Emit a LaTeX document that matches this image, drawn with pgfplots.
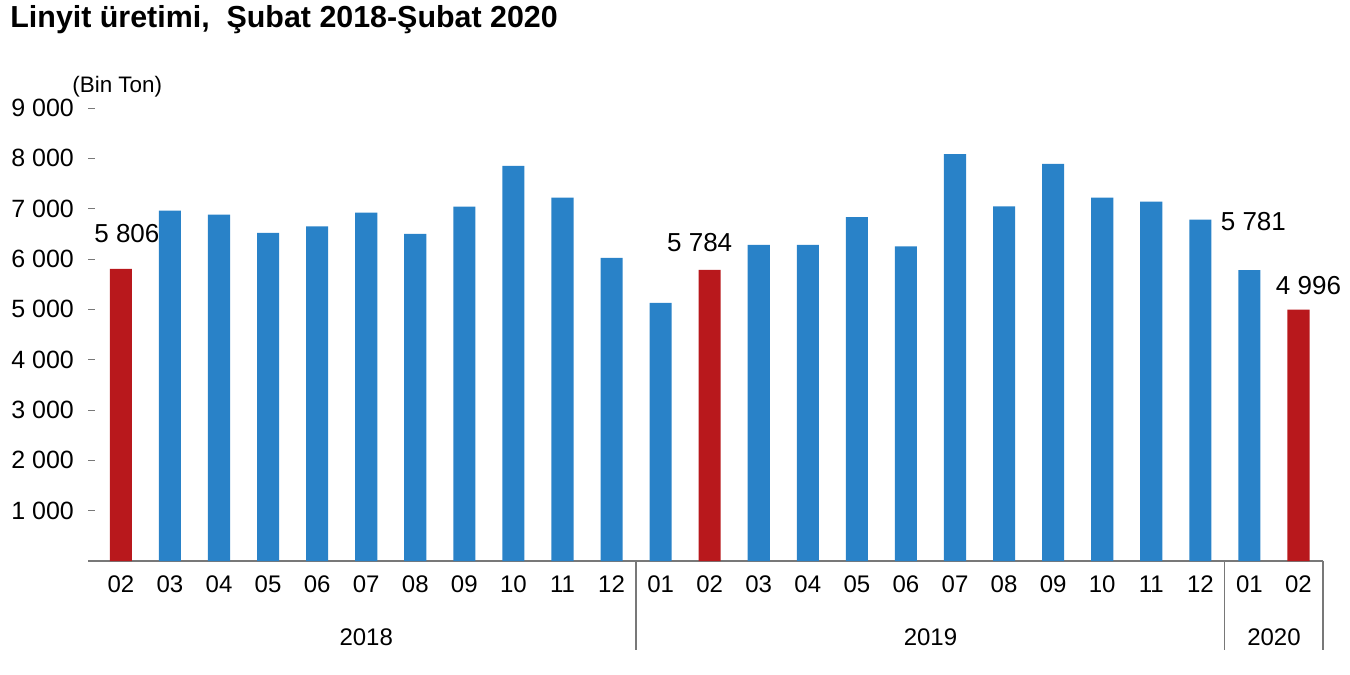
\documentclass[border=0pt]{standalone}
\usepackage{pgfplots}
\pgfplotsset{compat=1.18}
\usepackage{fontspec}
\setmainfont{Liberation Sans}
\definecolor{barblue}{RGB}{41,130,200}
\definecolor{barred}{RGB}{184,24,28}
\definecolor{axgray}{RGB}{120,120,120}
\begin{document}
\begin{tikzpicture}
\useasboundingbox (0,0) rectangle (675pt,337.5pt);
\node[anchor=base west, font=\fontsize{15.2}{17}\selectfont\bfseries, inner sep=0pt] at (5pt,323.5pt) {Linyit üretimi,\ \ Şubat 2018-Şubat 2020};
\node[anchor=base west, font=\fontsize{11.2}{13}\selectfont, inner sep=0pt] at (36pt,291pt) {(Bin Ton)};
\begin{axis}[
  at={(44pt,57pt)}, anchor=south west,
  scale only axis, width=617.5pt, height=226.5pt,
  xmin=-0.67, xmax=24.5, ymin=0, ymax=9000,
  ybar, bar width=0.45, bar shift=0pt,
  axis x line*=bottom, axis y line*=left,
  x axis line style={draw=axgray, line width=0.6pt},
  y axis line style={draw=none},
  xtick={0,...,24},
  xticklabels={02,03,04,05,06,07,08,09,10,11,12,01,02,03,04,05,06,07,08,09,10,11,12,01,02},
  xtick style={draw=none},
  ytick={1000,2000,...,9000},
  ytick style={draw=axgray, line width=0.5pt},
  tick align=inside, major tick length=3.5pt,
  /pgf/number format/assume math mode=true,
  /pgf/number format/1000 sep={\ },
  yticklabel style={font=\fontsize{12.5}{14}\selectfont, xshift=-3.5pt},
  xticklabel style={font=\fontsize{12}{14}\selectfont, yshift=-4pt},
  scaled y ticks=false,
  clip=false,
]
\addplot[fill=barblue, draw=none] coordinates {
 (1,6960) (2,6880) (3,6520) (4,6650) (5,6920) (6,6500) (7,7040) (8,7850) (9,7220) (10,6020)
 (11,5130) (13,6280) (14,6280) (15,6830) (16,6250) (17,8085) (18,7045) (19,7890) (20,7220) (21,7140) (22,6780)
 (23,5781)};
\addplot[fill=barred, draw=none] coordinates {(0,5806) (12,5784) (24,4996)};
\begin{scope}[font=\fontsize{13}{15}\selectfont]
\node[anchor=base, xshift=3pt, yshift=13pt] at (axis cs:0,5806) {5 806};
\node[anchor=base, xshift=-5pt, yshift=9pt] at (axis cs:12,5784) {5 784};
\node[anchor=base, xshift=2pt, yshift=20pt] at (axis cs:23,5781) {5 781};
\node[anchor=base, xshift=5pt, yshift=7.5pt] at (axis cs:24,4996) {4 996};
\end{scope}
\begin{scope}[font=\fontsize{12}{14}\selectfont]
\node[anchor=center, yshift=-38pt] at (axis cs:5,0) {2018};
\node[anchor=center, yshift=-38pt] at (axis cs:16.5,0) {2019};
\node[anchor=center, yshift=-38pt] at (axis cs:23.5,0) {2020};
\end{scope}
\draw[axgray, line width=0.6pt] (axis cs:10.5,0) -- ([yshift=-44.5pt]axis cs:10.5,0);
\draw[axgray, line width=0.6pt] (axis cs:22.5,0) -- ([yshift=-44.5pt]axis cs:22.5,0);
\draw[axgray, line width=0.6pt] (axis cs:24.5,0) -- ([yshift=-44.5pt]axis cs:24.5,0);
\end{axis}
\end{tikzpicture}
\end{document}
